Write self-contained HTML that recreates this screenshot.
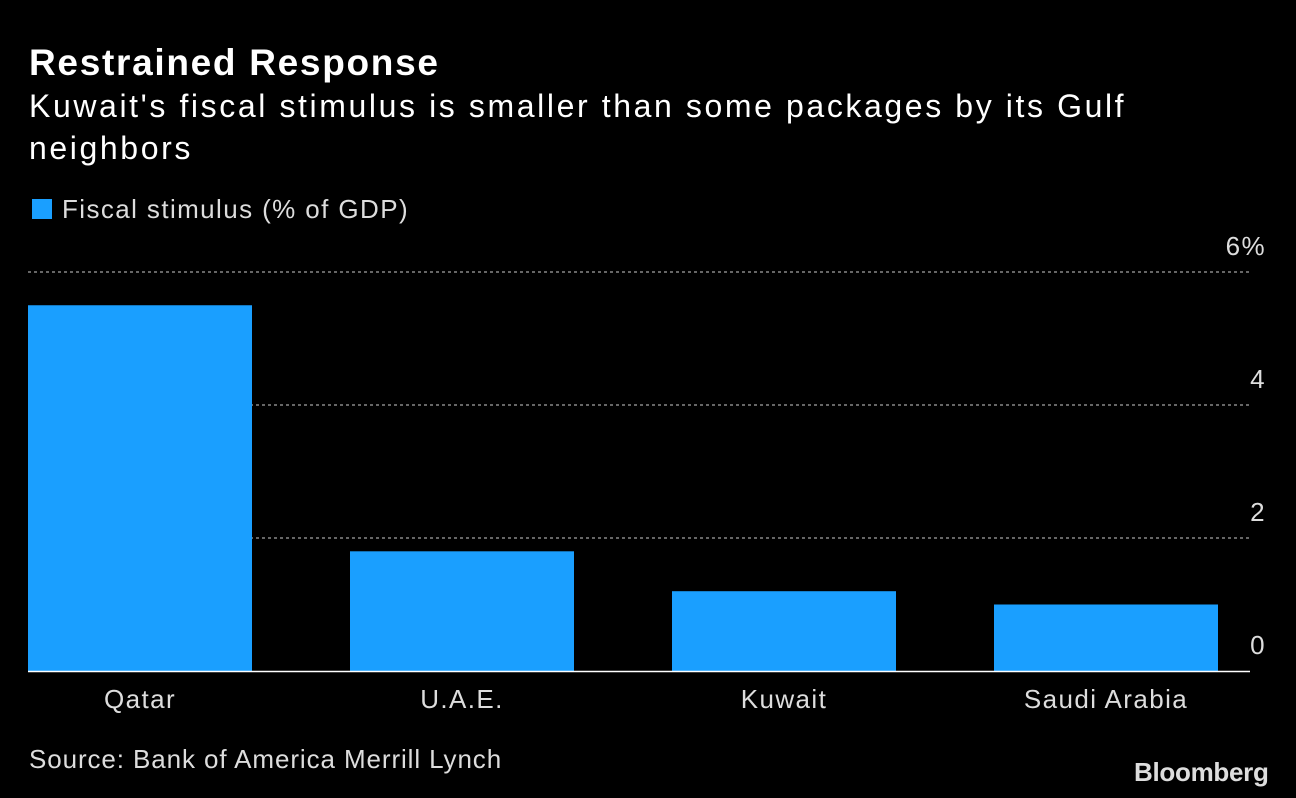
<!DOCTYPE html>
<html><head><meta charset="utf-8"><style>
body{margin:0;background:#000;width:1296px;height:798px;overflow:hidden;font-family:"Liberation Sans",sans-serif;color:#fff}
.t{position:absolute;white-space:nowrap;letter-spacing:1.4px}
</style></head><body>
<div class="t" style="left:29px;top:42px;font-size:37px;font-weight:bold;letter-spacing:1.7px">Restrained Response</div>
<div class="t" style="left:29px;top:85px;font-size:32px;line-height:42px;letter-spacing:2.6px">Kuwait's fiscal stimulus is smaller than some packages by its Gulf<br>neighbors</div>
<div style="position:absolute;left:32px;top:199px;width:20px;height:20px;background:#1a9fff"></div>
<div class="t" style="left:62px;top:194px;font-size:26px;color:#ddd">Fiscal stimulus (% of GDP)</div>
<svg id="c" style="position:absolute;left:0;top:0" width="1296" height="798"></svg>
<div class="t" style="left:29px;top:744px;font-size:26px;color:#ddd;letter-spacing:0.9px">Source: Bank of America Merrill Lynch</div>
<div class="t" style="left:1134px;top:757px;font-size:26px;font-weight:bold;color:#ddd;letter-spacing:-0.3px">Bloomberg</div>
<script>
const categories=["Qatar","U.A.E.","Kuwait","Saudi Arabia"];
const values=[5.5,1.8,1.2,1.0];
const ticks=[0,2,4,6];
const tickLabels=["0","2","4","6%"];
const svg=document.getElementById('c');
const NS="http://www.w3.org/2000/svg";
const y0=671,unit=66.5;
function y(v){return y0-v*unit;}
function x(i){return 28+i*322;}
function mk(t,a){const e=document.createElementNS(NS,t);for(const k in a)e.setAttribute(k,a[k]);svg.appendChild(e);return e;}
ticks.forEach((t,i)=>{
  if(t!==0){const l=mk('line',{x1:28,x2:1250,y1:y(t),y2:y(t),stroke:'#888','stroke-width':1.5,'stroke-dasharray':'3,3'});
  
  }
  const tx=mk('text',{x:1266,y:y(t)-17,'text-anchor':'end',fill:'#ddd','font-size':26,'letter-spacing':1.4,'font-family':'Liberation Sans, sans-serif'});
  tx.textContent=tickLabels[i];
  
  
});
values.forEach((v,i)=>{
  const r=mk('rect',{x:x(i),y:y(v),width:224,height:y0-y(v),fill:'#1a9fff'});
  
  
  const tx=mk('text',{x:x(i)+112,y:708,'text-anchor':'middle',fill:'#ddd','font-size':26,'letter-spacing':1.4,'font-family':'Liberation Sans, sans-serif'});
  tx.textContent=categories[i];
  
  
});
const ax=mk('line',{x1:28,x2:1250,y1:y0+0.5,y2:y0+0.5,stroke:'#fff','stroke-width':1.5});


</script>
</body></html>
